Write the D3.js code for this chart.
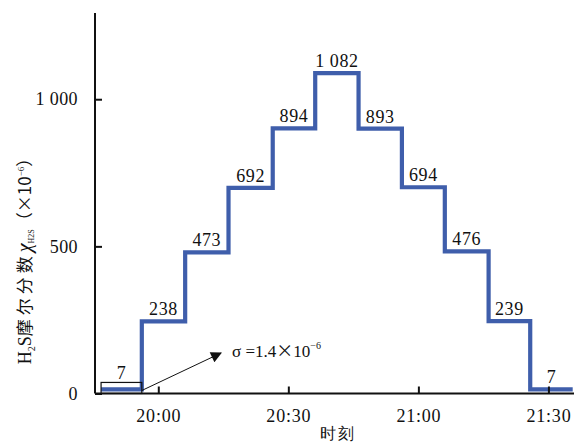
<!DOCTYPE html>
<html><head><meta charset="utf-8">
<script src="https://cdn.jsdelivr.net/npm/d3@7"></script>
<style>body{margin:0;background:#fff}svg{display:block}text{font-family:"Liberation Serif","DejaVu Serif",serif;fill:#111}</style>
</head><body><svg id="c" width="582" height="443"></svg>
<script>
// minutes relative to 20:00
const stepStarts = [-13.2, -3.8, 6.2, 16.2, 26.4, 36.2, 46.2, 56.2, 66.1, 76.2, 85.8];
const dataEnd = 95.6;
const stepValues = [7, 238, 473, 692, 894, 1082, 893, 694, 476, 239, 7];
const stepLabels = ["7", "238", "473", "692", "894", "1 082", "893", "694", "476", "239", "7"];
const xTicks = [0, 30, 60, 90];
const xTickLabels = ["20:00", "20:30", "21:00", "21:30"];
const yTicks = [0, 500, 1000];
const yTickLabels = ["0", "500", "1 000"];

const SERIF = '"Liberation Serif","DejaVu Serif",serif';
const CJK = '"Noto Sans CJK SC",sans-serif';
const svg = d3.select("#c");
const x = d3.scaleLinear().domain([-14.6, 95.9]).range([95, 574]);
const y = d3.scaleLinear().domain([0, 1293]).range([393.5, 13]);
const blue = "#3f5eab";

// data line
const pts = stepStarts.map((t, i) => [t, stepValues[i]]);
pts.push([dataEnd, stepValues[stepValues.length - 1]]);
const line = d3.line().x(d => x(d[0])).y(d => y(d[1]) - 2).curve(d3.curveStepAfter);
svg.append("path").attr("d", line(pts)).attr("fill", "none").attr("stroke", blue)
  .attr("stroke-width", 4.2).attr("stroke-linejoin", "miter");

// axes
const xAxis = d3.axisBottom(x).tickValues(xTicks).tickSize(-7).tickPadding(16)
  .tickFormat((d, i) => xTickLabels[i]);
const gx = svg.append("g").attr("transform", `translate(0,${y(0)})`).call(xAxis);
gx.attr("font-family", SERIF);
gx.select(".domain").attr("d", `M${x.range()[0]},0H${x.range()[1]}`).attr("stroke", "#111").attr("stroke-width", 2);
gx.selectAll(".tick line").attr("stroke", "#111").attr("stroke-width", 2);
gx.selectAll(".tick text").attr("font-size", 18).attr("letter-spacing", "0.8px")
  .attr("font-family", SERIF).attr("fill", "#111");

const yAxis = d3.axisLeft(y).tickValues(yTicks).tickSize(-7).tickPadding(17)
  .tickFormat((d, i) => yTickLabels[i]);
const gy = svg.append("g").attr("transform", `translate(${x.range()[0]},0)`).call(yAxis);
gy.attr("font-family", SERIF);
gy.select(".domain").attr("d", `M0,${y.range()[0]}V${y.range()[1]}`).attr("stroke", "#111").attr("stroke-width", 2);
gy.selectAll(".tick line").attr("stroke", "#111").attr("stroke-width", 2);
gy.selectAll(".tick text").attr("font-size", 18).attr("letter-spacing", "0.4px")
  .attr("font-family", SERIF).attr("fill", "#111");

// step labels
stepStarts.forEach((t, i) => {
  const t2 = i + 1 < stepStarts.length ? stepStarts[i + 1] : dataEnd;
  svg.append("text").attr("x", x((t + t2) / 2)).attr("y", i === 0 ? y(stepValues[i]) - 12 : y(stepValues[i]) - 8)
    .attr("text-anchor", "middle").attr("font-size", 18).attr("letter-spacing", "0.6px")
    .attr("font-family", SERIF).text(stepLabels[i]);
});

// annotation box around first step
svg.append("rect").attr("x", x(stepStarts[0])).attr("y", y(stepValues[0]) - 9)
  .attr("width", x(stepStarts[1]) - x(stepStarts[0])).attr("height", 11)
  .attr("fill", "none").attr("stroke", "#111").attr("stroke-width", 1.2);

// arrow
svg.append("defs").append("marker").attr("id", "ah").attr("viewBox", "0 0 10 10")
  .attr("refX", 9).attr("refY", 5).attr("markerWidth", 17).attr("markerHeight", 11)
  .attr("markerUnits", "userSpaceOnUse").attr("orient", "auto")
  .append("path").attr("d", "M0,0L10,5L0,10z").attr("fill", "#111");
svg.append("line").attr("x1", x(stepStarts[1])).attr("y1", y(0) - 3)
  .attr("x2", 221).attr("y2", 353).attr("stroke", "#111").attr("stroke-width", 1)
  .attr("marker-end", "url(#ah)");
const sig = svg.append("text").attr("x", 232).attr("y", 357).attr("font-size", 17).attr("font-family", SERIF);
sig.append("tspan").text("σ =1.4");
sig.append("tspan").attr("font-family", CJK).attr("font-size", 17).text("×");
sig.append("tspan").text("10");
sig.append("tspan").attr("dy", -8).attr("font-size", 10).text("−6");

// axis titles
svg.append("text").attr("x", 338).attr("y", 439).attr("text-anchor", "middle")
  .attr("font-family", CJK).attr("font-size", 16).attr("letter-spacing", "2px").text("时刻");

const yt = svg.append("text").attr("transform", "translate(31,257) rotate(-90)")
  .attr("text-anchor", "middle").attr("font-size", 18).attr("font-family", SERIF);
yt.append("tspan").text("H");
yt.append("tspan").attr("font-size", 10).attr("dy", 4).text("2");
yt.append("tspan").attr("dy", -4).text("S");
yt.append("tspan").attr("font-family", CJK).attr("font-size", 17).attr("letter-spacing", "4px").text("摩尔分数");
yt.append("tspan").attr("font-style", "italic").attr("font-size", 20).text("χ");
yt.append("tspan").attr("font-size", 8).attr("dy", 3).text("H2S");
yt.append("tspan").attr("dy", -3).attr("font-family", CJK).attr("font-size", 17).text("（×10");
yt.append("tspan").attr("font-size", 9).attr("dy", -7).text("−6");
yt.append("tspan").attr("dy", 7).attr("font-family", CJK).attr("font-size", 17).text("）");
</script></body></html>
